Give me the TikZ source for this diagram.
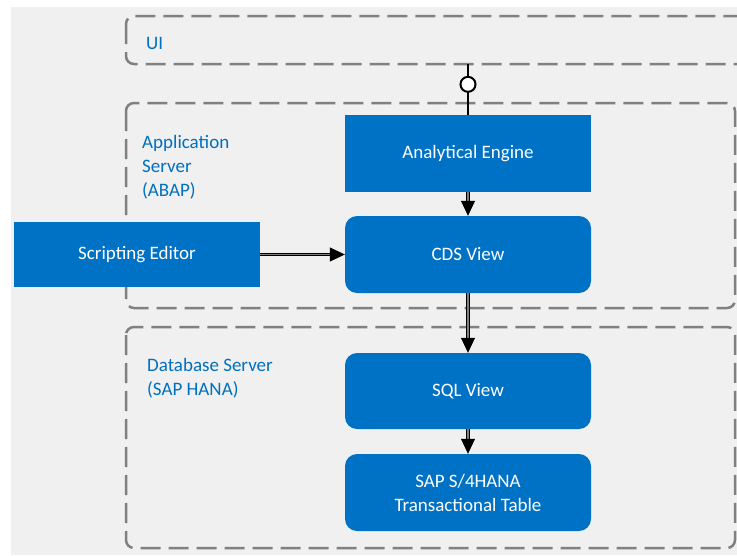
\documentclass[tikz,border=0pt]{standalone}
\usepackage{fontspec}
\setmainfont{Carlito}
\usetikzlibrary{arrows.meta}
\definecolor{boxblue}{RGB}{0,114,198}
\definecolor{labelblue}{RGB}{0,112,192}
\definecolor{backgray}{RGB}{240,240,240}
\definecolor{layergray}{RGB}{128,128,128}
\begin{document}
\begin{tikzpicture}
[x=1pt,y=-1pt,
  boxDecorate/.style={shape=rectangle,fill=boxblue,text=white,minimum width=246pt,align=center,inner sep=0pt},%
  layerDecorate/.style={draw=layergray,line width=2.5pt,dash pattern=on 20pt off 8pt,rounded corners=8pt},%
  labelDecorate/.style={text=labelblue,align=left,inner sep=0pt},%
  arrowDecorate/.style={-{Triangle[length=15pt,width=14pt]},draw=black,line width=0.8pt,double=gray,double distance=1.6pt},%
  portDecorate/.style={shape=circle,draw=black,fill=white,line width=2pt,minimum size=15pt,inner sep=0pt},%
  font=\fontsize{19}{24}\selectfont]
\useasboundingbox (0,0) rectangle (737,555);
\fill[backgray] (11,7) rectangle (737,555);
%% layers
\draw[layerDecorate] (126,16) rectangle (760,64);
\draw[layerDecorate] (126,103) rectangle (735,308);
\draw[layerDecorate] (126,327) rectangle (735,548);
\node (uilabel) at (146,43) [labelDecorate,anchor=west] {UI};
\node (applabel) at (142,135) [labelDecorate,anchor=north west] {Application\\Server\\(ABAP)};
\node (dblabel) at (147,358) [labelDecorate,anchor=north west] {Database Server\\(SAP HANA)};
%% nodes or boxes
\foreach \nodename/\x/\y/\h/\r/\nodetext in {engine/468/153.5/77/0/Analytical Engine, cds/468/254.5/77/12/CDS View, editor/137/254.5/65/0/Scripting Editor, sql/468/391/76/12/SQL View, table/468/492.5/77/12/{SAP S/4HANA\\Transactional Table}}
{
  \node (\nodename) at (\x,\y) [boxDecorate,minimum height=\h pt,rounded corners=\r pt] {\nodetext};
}
%% edges or lines
\coordinate (uiport) at (468,64);
\draw[line width=2pt] (uiport) -- node[pos=0.4,portDecorate] (port) {} (engine.north);
\path
\foreach \startnode/\startside/\endnode/\endside in {engine/south/cds/north, editor/east/cds/west, cds/south/sql/north, sql/south/table/north}
{
  (\startnode.\startside) edge[arrowDecorate] (\endnode.\endside)
};
\end{tikzpicture}
\end{document}
